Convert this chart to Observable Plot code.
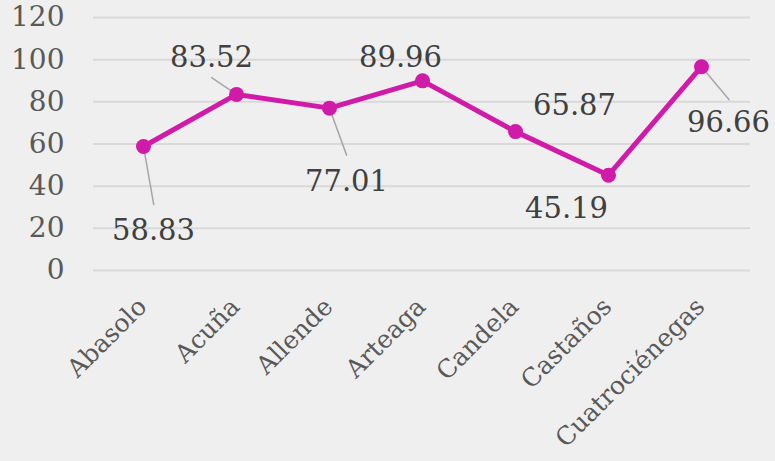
<!DOCTYPE html>
<html>
<head>
<meta charset="utf-8">
<script src="https://cdn.jsdelivr.net/npm/d3@7"></script>
<script src="https://cdn.jsdelivr.net/npm/@observablehq/plot@0.6"></script>
<style>
  html, body { margin: 0; padding: 0; background: #efefef; }
  svg { display: block; }
</style>
</head>
<body>
<div id="chart"></div>
<script>
// Data
const categories = ["Abasolo", "Acuña", "Allende", "Arteaga", "Candela", "Castaños", "Cuatrociénegas"];
const values = [58.83, 83.52, 77.01, 89.96, 65.87, 45.19, 96.66];
const yTicks = [0, 20, 40, 60, 80, 100, 120];

// Label placement (pixel offsets from each point: [dx, dy]) — styling only
const labelOffsets = [[10, 84], [-25, -37], [17, 74], [-22, -23], [59, -26], [-42, 33], [27, 56]];
// Leader lines: index, length (px), rotation (deg, clockwise from up)
const leaderStyle = [[0, 59, 170], [1, 30, -56], [2, 50, 160], [6, 43, 140]];

const rows = categories.map((c, i) => ({name: c, value: values[i]}));
const leaderRows = leaderStyle.map(([i, len, rot]) => ({name: categories[i], value: values[i], len, rot}));

const lineColor = "#d01aa8";
const fmt = d3.format(".2f");

const lineShape = {
  draw(context, l) {
    context.moveTo(0, 0);
    context.lineTo(0, -l);
  }
};

const textMarks = rows.map((d, i) =>
  Plot.text([d], {
    x: "name", y: "value", text: (r) => fmt(r.value),
    dx: labelOffsets[i][0], dy: labelOffsets[i][1],
    fontSize: 29, fill: "#404040"
  })
);

const chart = Plot.plot({
  width: 775,
  height: 461,
  marginLeft: 93,
  marginRight: 25,
  marginTop: 17,
  marginBottom: 191,
  style: {background: "#efefef", fontFamily: "DejaVu Serif", overflow: "visible"},
  x: {domain: categories, type: "point", padding: 0.5},
  y: {domain: [0, 120]},
  length: {type: "identity"},
  marks: [
    Plot.gridY(yTicks, {stroke: "#d9d9d9", strokeOpacity: 1, strokeWidth: 2}),
    Plot.axisY(yTicks, {tickSize: 0, tickPadding: 29, fontSize: 28, color: "#595959", label: null}),
    Plot.axisX({tickSize: 0, tickRotate: -45, tickPadding: 32, dx: -1, fontSize: 25, color: "#595959", label: null}),
    Plot.vector(leaderRows, {
      x: "name", y: "value", length: "len", rotate: "rot", anchor: "start",
      shape: lineShape, stroke: "#a6a6a6", strokeWidth: 1.5
    }),
    Plot.line(rows, {x: "name", y: "value", stroke: lineColor, strokeWidth: 5}),
    Plot.dot(rows, {x: "name", y: "value", r: 7.5, fill: lineColor}),
    ...textMarks
  ]
});

document.getElementById("chart").appendChild(chart);
</script>
</body>
</html>
